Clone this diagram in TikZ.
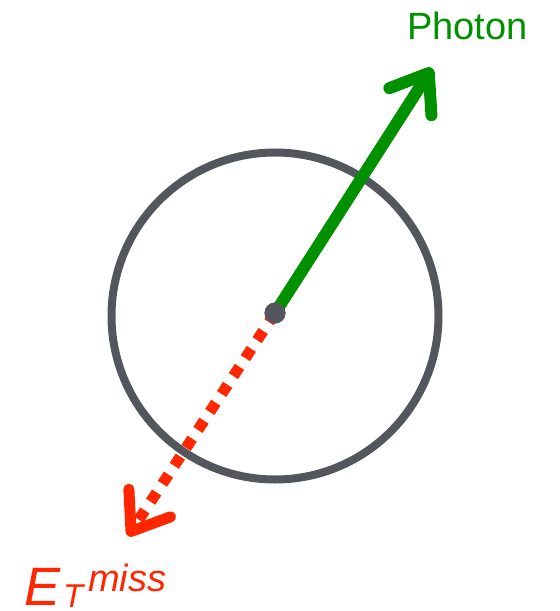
\documentclass[tikz,border=0pt]{standalone}
\usepackage{fontspec}
\setmainfont{Liberation Sans}
\usetikzlibrary{arrows.meta}
\definecolor{ringgray}{HTML}{53565D}
\definecolor{photongreen}{HTML}{009000}
\definecolor{missred}{HTML}{FF2600}
\tikzset{
  ring/.style={draw=ringgray, line width=8pt},
  vertexdot/.style={circle, fill=ringgray, inner sep=0pt, minimum size=21pt},
  barbtip/.style={-{Straight Barb[length=34pt, width=50pt, line join=round, line cap=round]}},
  photonarrow/.style={draw=photongreen, line width=12pt, barbtip},
  missarrow/.style={draw=missred, line width=11pt, dash pattern=on 11pt off 10.5pt, barbtip}
}
\begin{document}
\begin{tikzpicture}[x=1pt, y=-1pt]
\useasboundingbox (0,0) rectangle (560,611);
\draw[ring] (275,316) circle (163.5);
\coordinate (ptip) at (432,68);
\coordinate (mtip) at (128,536);
\node[vertexdot] (c) at (275,313) {};
\draw[photonarrow] (c.center) -- (ptip);
\draw[missarrow] (c.center) -- (mtip);
\node[vertexdot] (c2) at (c) {};
\node[inner sep=0pt, anchor=base west, text=photongreen, font=\fontsize{38}{38}\selectfont] (photon) at (407,39.5) {Photon};
\node[inner sep=0pt, anchor=base west, text=missred, font=\fontsize{54}{54}\selectfont\itshape] (E) at (24,605) {E};
\node[inner sep=0pt, anchor=base west, text=missred, font=\fontsize{33}{33}\selectfont\itshape] (T) at (63,607) {T};
\node[inner sep=0pt, anchor=base west, text=missred, font=\fontsize{38}{38}\selectfont\itshape] (miss) at (88,591) {miss};
\end{tikzpicture}
\end{document}
